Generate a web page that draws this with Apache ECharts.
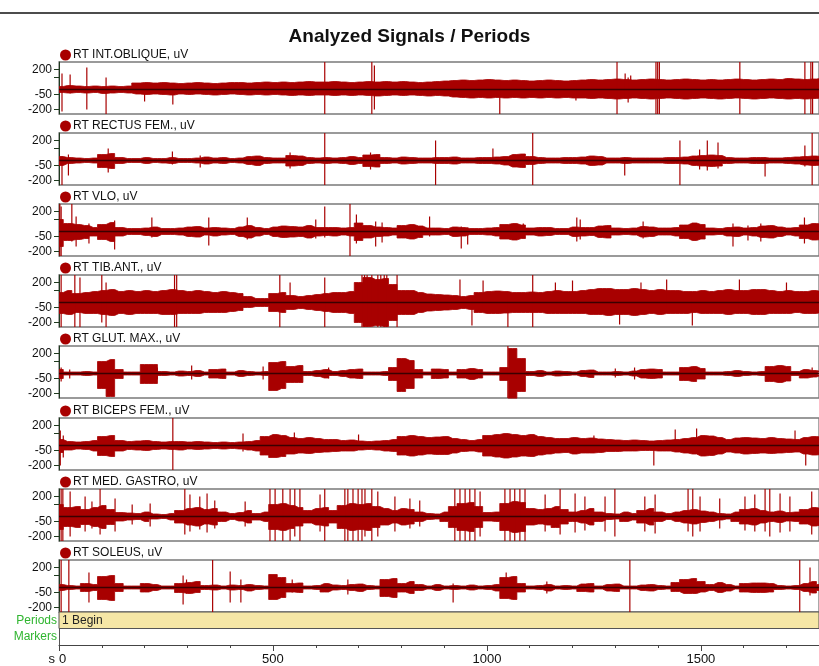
<!DOCTYPE html>
<html><head><meta charset="utf-8">
<script src="https://cdn.jsdelivr.net/npm/echarts@6/dist/echarts.min.js"></script>
<style>html,body{margin:0;padding:0;background:#fff}#c{width:819px;height:666px}</style>
</head><body><div id="c"></div>
<script>
// ---------- DATA ----------
const channelNames = ['RT INT.OBLIQUE, uV','RT RECTUS FEM., uV','RT VLO, uV','RT TIB.ANT., uV','RT GLUT. MAX., uV','RT BICEPS FEM., uV','RT MED. GASTRO, uV','RT SOLEUS, uV'];
// envelope sample times (s)
const binTimes = [0,20,40,60,80,100,120,140,160,180,200,220,240,260,280,300,320,340,360,380,400,420,440,460,480,500,520,540,560,580,600,620,640,660,680,700,720,740,760,780,800,820,840,860,880,900,920,940,960,980,1000,1020,1040,1060,1080,1100,1120,1140,1160,1180,1200,1220,1240,1260,1280,1300,1320,1340,1360,1380,1400,1420,1440,1460,1480,1500,1520,1540,1560,1580,1600,1620,1640,1660,1680,1700,1720,1740,1760,1780];
const yTickLabels = [200,-50,-200];
const xTickLabels = [0,500,1000,1500];
const periodStarts = [0];
const periodEnds = [1776];
const periodLabels = ['1 Begin'];
const rowLabels = ['Markers','Periods'];

const obliqueUp = [30,40,35,30,35,30,35,30,35,65, 70,65,70,65,60,65,70,65,60,65, 70,70,65,70,75,70,75,70,75,80, 75,75,80,75,70,75,80,75,80,75, 80,75,70,75,80,85,90,95,90,95, 100,95,90,95,90,85,90,95,90,85, 90,95,100,95,100,105,100,95,100,105, 100,95,100,105,100,95,100,95,100,105, 100,95,100,105,100,110,105,100,105,110];
const obliqueDown = [-30,-35,-30,-35,-30,-40,-35,-30,-35,-45, -50,-45,-50,-55,-45,-50,-45,-50,-55,-50, -45,-50,-55,-50,-55,-50,-55,-60,-55,-60, -55,-55,-60,-55,-60,-55,-60,-65,-60,-55, -60,-55,-60,-65,-60,-65,-75,-80,-85,-80, -85,-80,-85,-80,-85,-80,-85,-80,-85,-80, -85,-85,-90,-85,-90,-95,-90,-85,-90,-95, -90,-85,-90,-95,-90,-85,-90,-95,-90,-85, -90,-95,-90,-85,-90,-95,-90,-95,-90,-85];
const obliqueSpikes = [[7,-220,160],[26,-40,150],[65,-200,220],[110,-250,120],[200,-120,40],[266,-150,40],[621,-250,275],[731,-250,275],[737,-200,240],[1030,-250,60],[1208,-110,60],[1304,-250,275],[1323,-60,160],[1330,-130,120],[1336,-60,140],[1395,-250,275],[1399,-250,275],[1403,-250,275],[1591,-250,275],[1743,-250,275],[1757,-250,275],[1761,-250,275]];

const rectusUp = [40,30,25,20,25,60,70,30,20,20, 30,20,20,30,20,20,25,35,25,30, 20,25,40,45,30,25,25,50,45,30, 25,30,25,30,40,30,55,60,30,25, 35,30,25,25,30,30,35,25,25,30, 30,35,40,60,65,40,30,25,25,30, 30,35,45,40,25,25,30,25,25,25, 25,30,30,35,45,50,55,50,30,25, 25,30,30,25,25,30,35,40,45,40];
const rectusDown = [-50,-30,-25,-20,-25,-70,-80,-30,-20,-20, -30,-20,-25,-30,-20,-20,-25,-35,-25,-30, -20,-25,-40,-50,-30,-25,-25,-55,-50,-30, -25,-30,-25,-30,-40,-30,-60,-65,-30,-25, -35,-30,-25,-25,-30,-30,-35,-25,-25,-30, -30,-35,-45,-65,-70,-40,-30,-25,-25,-30, -30,-35,-50,-45,-25,-25,-30,-25,-25,-25, -25,-30,-30,-35,-50,-55,-60,-55,-30,-25, -25,-30,-30,-25,-25,-30,-35,-45,-50,-45];
const rectusSpikes = [[7,-250,40],[22,-150,60],[115,-120,120],[265,-40,90],[330,-70,50],[540,-80,80],[621,-250,275],[728,-90,80],[880,-250,200],[1014,-30,120],[1107,-250,275],[1322,-150,30],[1451,-250,200],[1497,-90,110],[1515,-100,200],[1540,-80,180],[1650,-160,30],[1743,-60,150],[1760,-250,275]];

const vloUp = [120,80,70,60,40,70,90,40,30,30, 35,45,30,30,35,45,50,35,40,35, 30,45,60,40,30,45,55,50,45,60, 40,40,40,35,40,85,60,45,40,35, 60,70,55,35,35,30,45,40,30,30, 35,40,70,80,65,35,40,40,30,30, 45,40,40,55,60,35,30,35,50,45, 35,35,40,65,85,70,35,30,40,45, 35,40,55,60,45,35,40,65,80,75];
const vloDown = [-150,-90,-80,-70,-45,-80,-100,-45,-30,-30, -40,-50,-30,-30,-35,-50,-55,-35,-45,-35, -30,-50,-65,-45,-30,-50,-60,-55,-50,-65, -45,-40,-45,-35,-45,-90,-65,-50,-45,-35, -65,-75,-60,-35,-35,-30,-50,-45,-30,-30, -35,-45,-75,-85,-70,-35,-45,-40,-30,-30, -50,-45,-40,-60,-65,-35,-30,-35,-55,-50, -35,-35,-45,-70,-90,-75,-35,-30,-45,-50, -35,-45,-60,-65,-50,-35,-45,-70,-85,-80];
const vloSpikes = [[2,-250,275],[5,-250,250],[30,-100,275],[40,-150,150],[70,-120,80],[130,-180,110],[217,-60,140],[350,-140,140],[440,-80,140],[600,-70,120],[621,-60,250],[680,-250,275],[695,-120,170],[740,-150,100],[755,-110,90],[866,-50,150],[940,-170,50],[955,-130,40],[1085,-60,80],[1210,-100,140],[1218,-80,120],[1365,-70,100],[1575,-150,80],[1610,-90,60],[1640,-100,80],[1742,-120,140]];

const tibUp = [100,120,90,100,110,120,130,110,120,110, 120,110,120,130,120,110,120,110,100,110, 100,90,60,40,40,90,100,70,60,70, 80,90,100,100,110,200,250,230,240,180, 120,120,100,85,80,75,70,60,70,100, 110,115,110,100,100,105,100,110,120,110, 110,120,130,140,140,130,130,140,130,120, 130,120,120,110,110,120,110,120,130,120, 120,130,130,120,110,120,110,110,120,110];
const tibDown = [-110,-120,-100,-110,-110,-120,-130,-110,-120,-110, -110,-110,-120,-120,-110,-110,-110,-100,-100,-100, -90,-80,-50,-40,-40,-90,-100,-70,-60,-70, -80,-90,-100,-100,-110,-200,-240,-230,-240,-180, -120,-120,-100,-85,-80,-75,-70,-60,-70,-100, -110,-110,-105,-100,-100,-100,-100,-110,-110,-110, -110,-110,-120,-120,-130,-120,-120,-130,-120,-110, -120,-110,-110,-110,-100,-110,-110,-110,-120,-110, -110,-120,-120,-110,-110,-110,-100,-110,-110,-100];
const tibSpikes = [[5,-250,275],[37,-250,275],[49,-250,250],[100,-200,275],[110,-250,200],[270,-250,275],[275,-250,275],[516,-250,275],[540,-60,200],[621,-250,250],[708,-250,275],[714,-250,275],[720,-250,275],[731,-150,275],[745,-250,275],[752,-250,275],[760,-250,275],[766,-250,275],[790,-250,275],[937,-60,230],[965,-230,60],[991,-60,220],[1049,-250,80],[1107,-250,275],[1160,-60,200],[1200,-60,220],[1310,-220,60],[1360,-100,200],[1420,-60,230],[1480,-230,60],[1590,-60,230],[1700,-100,200]];

const glutUp = [40,15,15,20,15,120,140,40,15,15, 90,90,20,15,25,20,30,15,40,45, 15,30,20,15,20,110,120,70,80,20, 30,40,20,30,40,45,15,15,20,60, 150,130,40,15,45,40,15,40,50,40, 15,15,60,250,150,20,30,15,25,20, 15,30,35,15,15,20,15,25,40,45, 40,15,15,60,70,50,15,15,20,30, 20,15,20,70,80,70,20,40,30,20];
const glutDown = [-50,-15,-15,-20,-15,-150,-230,-50,-15,-15, -100,-100,-20,-15,-25,-20,-30,-15,-45,-50, -15,-30,-20,-15,-20,-170,-150,-90,-90,-20, -30,-45,-20,-30,-45,-50,-15,-15,-20,-70, -180,-150,-45,-15,-50,-45,-15,-45,-60,-45, -15,-15,-70,-250,-180,-20,-30,-15,-25,-20, -15,-30,-40,-15,-15,-20,-15,-25,-45,-50, -45,-15,-15,-70,-80,-55,-15,-15,-20,-30, -20,-15,-20,-80,-90,-75,-20,-45,-35,-20];
const glutSpikes = [[5,-80,60],[25,-50,40],[230,-60,60],[310,-60,80],[477,-60,70],[630,-50,60],[1049,-250,275],[1300,-40,50],[1345,-60,60],[1760,-40,60]];

const bicepsUp = [60,40,35,40,50,90,100,50,40,45, 50,40,35,40,40,35,40,35,30,35, 30,35,40,50,90,110,100,80,70,80, 70,60,60,50,55,45,40,45,50,60, 90,100,90,80,85,90,70,60,50,60, 100,110,120,110,100,110,90,80,70,70, 80,70,75,65,60,55,50,55,50,45, 50,55,60,70,80,100,95,80,60,75, 80,75,70,80,70,65,60,80,90,85];
const bicepsDown = [-70,-45,-35,-40,-55,-100,-110,-55,-40,-45, -50,-40,-35,-40,-45,-35,-40,-35,-30,-35, -30,-35,-45,-55,-95,-120,-110,-85,-75,-80, -70,-65,-60,-55,-55,-45,-40,-45,-55,-60, -95,-105,-95,-85,-90,-90,-75,-60,-55,-65, -105,-115,-125,-115,-105,-110,-95,-85,-75,-70, -85,-75,-75,-70,-60,-60,-55,-55,-50,-50, -55,-55,-65,-75,-85,-105,-100,-85,-65,-75, -85,-80,-75,-80,-75,-70,-65,-85,-95,-90];
const bicepsSpikes = [[3,-200,150],[10,-120,100],[266,-250,275],[430,-60,120],[550,-80,130],[700,-40,110],[1250,-40,100],[1390,-200,40],[1440,-60,160],[1490,-60,170],[1720,-60,150],[1745,-200,40]];

const gastroUp = [120,90,100,70,90,110,70,40,35,30, 45,25,20,30,60,80,90,70,80,45, 30,40,60,30,45,120,130,110,90,60, 80,90,60,110,130,120,130,100,80,60, 80,70,45,30,25,45,100,130,140,100, 40,45,130,150,140,80,70,80,100,70, 45,60,80,45,30,25,45,30,60,80, 45,30,45,60,70,55,45,30,25,45, 70,80,60,45,55,40,45,70,90,80];
const gastroDown = [-130,-100,-110,-80,-100,-120,-80,-45,-35,-30, -50,-25,-20,-35,-65,-85,-95,-75,-85,-50, -30,-45,-65,-35,-50,-130,-140,-120,-95,-65, -85,-95,-65,-120,-140,-130,-140,-110,-85,-65, -85,-75,-50,-30,-25,-50,-110,-140,-150,-110, -45,-50,-140,-160,-150,-85,-75,-85,-110,-75, -50,-65,-85,-50,-30,-25,-50,-35,-65,-85, -50,-30,-50,-65,-75,-60,-50,-35,-25,-50, -75,-85,-65,-50,-60,-45,-50,-75,-95,-85];
const gastroSpikes = [[5,-250,275],[9,-250,275],[26,-200,250],[61,-150,200],[77,-120,150],[96,-180,275],[131,-150,180],[171,-80,120],[213,-100,130],[294,-180,275],[306,-150,220],[329,-130,200],[346,-160,230],[364,-120,160],[435,-100,150],[493,-250,275],[505,-250,275],[523,-250,275],[540,-250,275],[551,-200,275],[563,-250,275],[610,-150,220],[621,-250,275],[668,-250,275],[675,-250,275],[687,-250,275],[699,-250,275],[708,-250,275],[715,-200,275],[731,-250,275],[745,-200,250],[785,-150,200],[820,-120,180],[843,-100,160],[925,-250,275],[937,-250,275],[949,-250,275],[960,-250,275],[972,-250,275],[984,-200,250],[1042,-250,275],[1054,-250,275],[1065,-250,275],[1077,-250,275],[1089,-250,275],[1136,-150,220],[1171,-180,275],[1206,-160,230],[1229,-140,200],[1276,-150,200],[1299,-200,275],[1369,-150,200],[1393,-170,220],[1470,-150,275],[1481,-200,275],[1498,-150,200],[1544,-120,180],[1603,-140,200],[1626,-150,220],[1650,-150,275],[1661,-200,275],[1685,-160,230],[1708,-150,200],[1759,-180,250]];

const soleusUp = [30,20,15,40,30,110,120,40,15,15, 40,30,15,15,40,50,60,20,25,15, 25,20,30,20,15,130,100,40,45,15, 20,40,25,20,30,35,20,15,80,90, 40,60,30,15,30,15,20,15,25,15, 20,30,100,110,40,15,20,30,15,20, 15,35,40,15,30,35,15,15,25,30, 20,15,50,80,90,60,30,50,30,15, 40,45,45,40,20,15,20,40,60,30];
const soleusDown = [-30,-20,-15,-40,-30,-120,-130,-40,-15,-15, -45,-30,-15,-15,-50,-60,-50,-20,-25,-15, -25,-20,-35,-20,-15,-120,-100,-45,-50,-15, -20,-45,-25,-20,-30,-40,-20,-15,-90,-100, -45,-60,-30,-15,-30,-15,-20,-15,-25,-15, -20,-35,-110,-120,-45,-15,-20,-35,-15,-20, -15,-40,-45,-15,-35,-40,-15,-15,-30,-35, -20,-15,-40,-60,-60,-45,-30,-50,-35,-15, -45,-50,-50,-45,-20,-15,-20,-40,-55,-30];
const soleusSpikes = [[5,-250,275],[23,-250,275],[70,-150,150],[290,-170,120],[298,-60,80],[359,-250,275],[400,-150,160],[425,-150,80],[545,-50,80],[675,-70,80],[921,-150,40],[1045,-50,150],[1140,-60,60],[1334,-250,275],[1731,-250,275],[1755,-80,200]];

// ---------- CHART ----------
const panels = [
  {up: obliqueUp, down: obliqueDown, spikes: obliqueSpikes},
  {up: rectusUp, down: rectusDown, spikes: rectusSpikes},
  {up: vloUp, down: vloDown, spikes: vloSpikes},
  {up: tibUp, down: tibDown, spikes: tibSpikes},
  {up: glutUp, down: glutDown, spikes: glutSpikes},
  {up: bicepsUp, down: bicepsDown, spikes: bicepsSpikes},
  {up: gastroUp, down: gastroDown, spikes: gastroSpikes},
  {up: soleusUp, down: soleusDown, spikes: soleusSpikes}
];
const RED = '#a80000';
const FONT = 'Liberation Sans, Arial, sans-serif';
const panelTops = [62,133,204,275,346,418,489,560];
const PH = 52, LEFT = 59, XMAX = 1776, YMIN = -245, YMAX = 275;

const grid = [], xAxis = [], yAxis = [], series = [], legend = [];
panels.forEach((p, k) => {
  grid.push({left: LEFT, right: 0, top: panelTops[k], height: PH, show: true, borderColor: '#7a7a7a', borderWidth: 1.3, backgroundColor: '#fff'});
  xAxis.push({gridIndex: k, type: 'value', min: 0, max: XMAX, show: false});
  yAxis.push({gridIndex: k, type: 'value', min: YMIN, max: YMAX,
    axisLine: {show: true, lineStyle: {color: '#1f3a1f', width: 1}},
    axisTick: {show: true, customValues: [200, 120, -50, -200], length: 5, lineStyle: {color: '#1f3a1f'}},
    axisLabel: {customValues: yTickLabels, fontSize: 12, color: '#111', margin: 7, fontFamily: FONT},
    splitLine: {show: false}});
  const name = channelNames[k];
  const common = {type: 'line', name, xAxisIndex: k, yAxisIndex: k, symbol: 'none', showSymbol: false, silent: true,
    step: 'middle',
    lineStyle: {width: 0.8, color: RED}, itemStyle: {color: RED}, areaStyle: {color: RED, opacity: 1}, z: 2};
  series.push(Object.assign({}, common, {data: binTimes.map((t, i) => [t, p.up[i]])}));
  series.push(Object.assign({}, common, {data: binTimes.map((t, i) => [t, p.down[i]]),
    markLine: {silent: true, symbol: ['none', 'none'], label: {show: false}, animation: false,
      lineStyle: {color: '#3a0000', width: 1.4, type: 'solid'}, data: [{yAxis: 0}]}}));
  series.push({type: 'custom', name, xAxisIndex: k, yAxisIndex: k, silent: true, clip: true, z: 3,
    itemStyle: {color: RED}, data: p.spikes, encode: {x: 0, y: [1, 2]},
    renderItem: (params, api) => {
      const a = api.coord([api.value(0), api.value(1)]);
      const b = api.coord([api.value(0), api.value(2)]);
      return {type: 'line', shape: {x1: a[0], y1: a[1], x2: b[0], y2: b[1]}, style: {stroke: RED, lineWidth: 1.2}};
    }});
  legend.push({data: [{name, icon: 'circle'}], left: 60, top: panelTops[k] - 13, padding: 0, itemWidth: 11, itemHeight: 11,
    selectedMode: false, textStyle: {fontSize: 12, color: '#111', fontFamily: FONT, padding: [0, 0, 0, -3]}});
});

// Periods / Markers strip with the time axis
const P = panels.length;
grid.push({left: LEFT, right: 0, top: 612, height: 34, show: false});
xAxis.push({gridIndex: P, type: 'value', min: 0, max: XMAX, interval: 500,
  axisLine: {show: true, lineStyle: {color: '#444'}},
  axisTick: {show: true, customValues: xTickLabels, length: 6, lineStyle: {color: '#444'}},
  minorTick: {show: true, splitNumber: 5, length: 3, lineStyle: {color: '#444'}},
  axisLabel: {customValues: xTickLabels, formatter: v => String(v), alignMinLabel: 'left',
    fontSize: 13, color: '#111', margin: 8, fontFamily: FONT},
  splitLine: {show: false},
  name: 's', nameLocation: 'start', nameGap: 0,
  nameTextStyle: {fontSize: 13, color: '#111', fontFamily: FONT, verticalAlign: 'top', padding: [8, 0, 0, 0]}});
yAxis.push({gridIndex: P, type: 'category', data: rowLabels,
  axisLine: {show: true, lineStyle: {color: '#555'}}, axisTick: {show: false},
  axisLabel: {color: '#2fb52f', fontSize: 12, margin: 2, fontFamily: FONT}, splitLine: {show: false}});
series.push({type: 'custom', xAxisIndex: P, yAxisIndex: P, silent: true,
  data: periodStarts.map((s, i) => [s, 1, periodEnds[i]]),
  renderItem: (params, api) => {
    const s = api.coord([api.value(0), 1]);
    const e = api.coord([api.value(2), 1]);
    const h = api.size([0, 1])[1];
    return {type: 'group', children: [
      {type: 'rect', shape: {x: s[0], y: s[1] - h / 2, width: e[0] - s[0], height: h},
        style: {fill: '#f6e7a6', stroke: '#555', lineWidth: 1}},
      {type: 'text', x: s[0] + 3, y: s[1], style: {text: periodLabels[params.dataIndex], fill: '#222',
        font: '12px ' + FONT, verticalAlign: 'middle', align: 'left'}}
    ]};
  }});

const chart = echarts.init(document.getElementById('c'), null, {renderer: 'canvas'});
chart.setOption({
  animation: false,
  backgroundColor: '#fff',
  title: {text: 'Analyzed Signals / Periods', left: 'center', top: 22,
    textStyle: {fontSize: 19, fontWeight: 'bold', color: '#111', fontFamily: FONT}},
  graphic: [{type: 'line', shape: {x1: 0, y1: 13, x2: 819, y2: 13}, style: {stroke: '#111', lineWidth: 1.5}}],
  legend, grid, xAxis, yAxis, series
});
</script></body></html>
